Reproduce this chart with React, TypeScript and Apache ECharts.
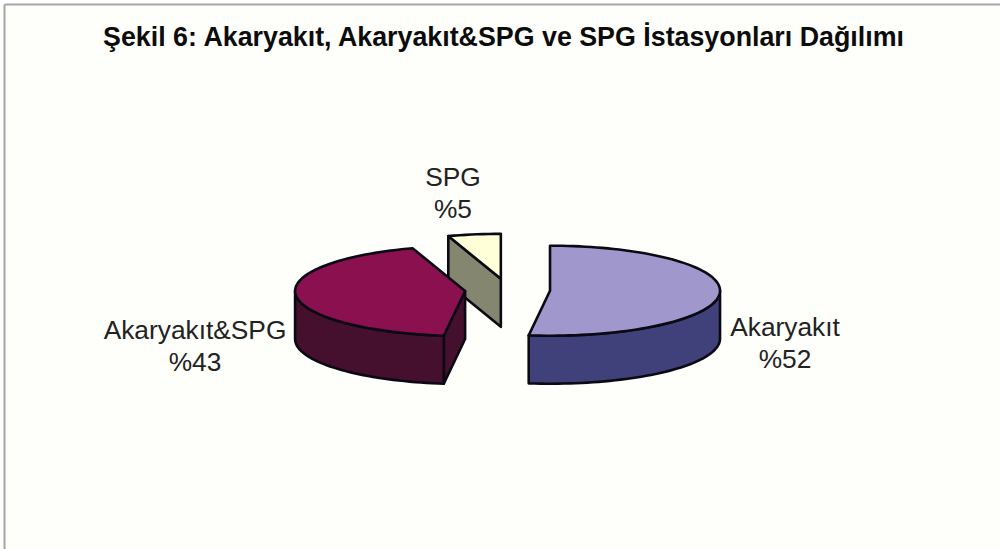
import React, { useEffect, useRef } from "react";
import * as echarts from "echarts";

const title = "Şekil 6: Akaryakıt, Akaryakıt&SPG ve SPG İstasyonları Dağılımı";
const categories = ["Akaryakıt", "Akaryakıt&SPG", "SPG"];
const values = [52, 43, 5];
const topColors = ["#A098CC", "#8A1050", "#FFFFD8"];
const sideColors = ["#40407A", "#45102E", "#858670"];
// label centre (px) per slice
const labelX = [785, 195, 453];
const labelY = [342.5, 346, 193];

const CX = 507.5;
const CY = 290;
const RX = 170;
const RY = 45;
const DEPTH = 48;
const EXPLODE = 42.6;
const FONT = '"Liberation Sans", Arial, sans-serif';
const rad = (d: number) => (d * Math.PI) / 180;

const total = values.reduce((a, b) => a + b, 0);

function renderItem(params: any, api: any) {
  const i = params.dataIndex;
  const before = values.slice(0, i).reduce((a, b) => a + b, 0);
  const start = (before / total) * 360;
  const end = start + (api.value(0) / total) * 360;
  const mid = (start + end) / 2;
  const cx = CX + EXPLODE * Math.sin(rad(mid));
  const cy = CY - EXPLODE * (RY / RX) * Math.cos(rad(mid));
  const pt = (a: number, dy = 0): number[] => [
    cx + RX * Math.sin(rad(a)),
    cy - RY * Math.cos(rad(a)) + dy,
  ];
  const arc = (a: number, b: number, dy = 0) => {
    const n = Math.max(2, Math.ceil(Math.abs(b - a) / 2));
    const out: number[][] = [];
    for (let k = 0; k <= n; k++) out.push(pt(a + ((b - a) * k) / n, dy));
    return out;
  };
  const line = { stroke: "#0a0a14", lineWidth: 2.6, lineJoin: "round" };
  const children: any[] = [];
  const poly = (points: number[][], fill: string) =>
    children.push({ type: "polygon", z2: 10 - i, shape: { points }, style: { fill, ...line } });

  // a radial cut face is seen only when its outward normal turns towards the viewer
  const cut = (a: number) => {
    poly([[cx, cy], pt(a), pt(a, DEPTH), [cx, cy + DEPTH]], sideColors[i]);
  };
  if (i > 0 && -Math.cos(rad(start - 90)) > 0) cut(start);
  if (-Math.cos(rad(end + 90)) > 0) cut(end);

  // outer wall, front half only
  const from = Math.max(start, 90);
  const to = Math.min(end, 270);
  if (to > from) {
    poly([...arc(from, to), ...arc(to, from, DEPTH)], sideColors[i]);
  }
  // top face
  poly([[cx, cy], ...arc(start, end)], topColors[i]);

  children.push({
    type: "text",
    z2: 20,
    style: {
      text: `${categories[i]}\n%${api.value(0)}`,
      x: labelX[i],
      y: labelY[i],
      align: "center",
      verticalAlign: "middle",
      fill: "#222222",
      font: `26.3px ${FONT}`,
      lineHeight: 32,
    },
  });
  return { type: "group", children };
}

export default function App() {
  const ref = useRef<HTMLDivElement>(null);
  useEffect(() => {
    const chart = echarts.init(ref.current!, null, { renderer: "svg" });
    chart.setOption({
      animation: false,
      backgroundColor: "#FEFEFB",
      title: {
        text: title,
        left: 498.5,
        top: 18,
        textAlign: "center",
        textStyle: { fontFamily: FONT, fontSize: 26.8, fontWeight: "bold", color: "#0c0c0c" },
      },
      graphic: [
        { type: "rect", z: -1, shape: { x: 0, y: 0, width: 1000, height: 4 }, style: { fill: "#ffffff" } },
        { type: "rect", z: -1, shape: { x: 0, y: 0, width: 4, height: 549 }, style: { fill: "#ffffff" } },
        { type: "line", shape: { x1: 4.5, y1: 4.5, x2: 1000, y2: 4.5 }, style: { stroke: "#a6a6a6", lineWidth: 2 } },
        { type: "line", shape: { x1: 4.5, y1: 4.5, x2: 4.5, y2: 549 }, style: { stroke: "#a6a6a6", lineWidth: 2 } },
      ],
      series: [
        {
          type: "custom",
          coordinateSystem: "none",
          renderItem,
          data: values.map((v, i) => ({ name: categories[i], value: [v] })),
        },
      ],
    });
    return () => chart.dispose();
  }, []);
  return (
    <div ref={ref} style={{ position: "absolute", left: 0, top: 0, width: 1000, height: 549 }} />
  );
}
